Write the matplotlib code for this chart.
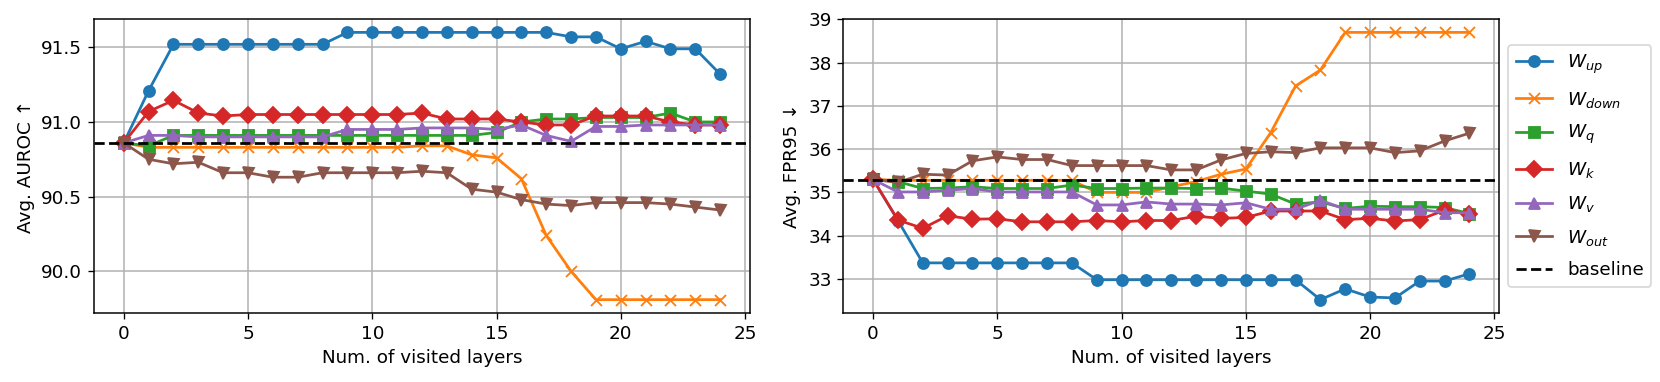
import matplotlib
matplotlib.use('Agg')
import matplotlib.pyplot as plt

# layers visited
layers = list(range(25))

# Avg. AUROC per weight type
auroc_up = [90.86, 91.21, 91.52, 91.52, 91.52, 91.52, 91.52, 91.52, 91.52, 91.60, 91.60, 91.60, 91.60,
            91.60, 91.60, 91.60, 91.60, 91.60, 91.57, 91.57, 91.49, 91.54, 91.49, 91.49, 91.32]
auroc_down = [90.86, 90.83, 90.83, 90.83, 90.83, 90.83, 90.83, 90.83, 90.83, 90.83, 90.83, 90.83, 90.84,
              90.84, 90.78, 90.76, 90.62, 90.24, 90.00, 89.81, 89.81, 89.81, 89.81, 89.81, 89.81]
auroc_q = [90.86, 90.84, 90.91, 90.91, 90.91, 90.91, 90.91, 90.91, 90.91, 90.91, 90.91, 90.91, 90.91,
           90.91, 90.91, 90.93, 91.00, 91.02, 91.02, 91.03, 91.03, 91.03, 91.06, 91.00, 91.00]
auroc_k = [90.86, 91.07, 91.145, 91.06, 91.04, 91.05, 91.05, 91.05, 91.05, 91.05, 91.05, 91.05, 91.06,
           91.02, 91.02, 91.02, 91.00, 90.98, 90.98, 91.04, 91.04, 91.04, 91.00, 90.98, 90.98]
auroc_v = [90.86, 90.91, 90.91, 90.90, 90.90, 90.90, 90.90, 90.90, 90.90, 90.95, 90.95, 90.95, 90.96,
           90.96, 90.96, 90.95, 90.98, 90.91, 90.87, 90.97, 90.97, 90.98, 90.98, 90.98, 90.98]
auroc_out = [90.86, 90.75, 90.72, 90.73, 90.66, 90.66, 90.63, 90.63, 90.66, 90.66, 90.66, 90.66, 90.67,
             90.66, 90.55, 90.53, 90.48, 90.45, 90.44, 90.46, 90.46, 90.46, 90.45, 90.43, 90.41]
auroc_base = 90.86

# Avg. FPR95 per weight type
fpr_up = [35.30, 34.35, 33.37, 33.37, 33.37, 33.37, 33.37, 33.37, 33.37, 32.98, 32.98, 32.98, 32.98,
          32.98, 32.98, 32.98, 32.98, 32.98, 32.52, 32.77, 32.58, 32.56, 32.95, 32.95, 33.12]
fpr_down = [35.30, 35.28, 35.28, 35.28, 35.28, 35.28, 35.28, 35.28, 35.28, 35.00, 35.00, 35.00, 35.13,
            35.25, 35.42, 35.54, 36.38, 37.46, 37.83, 38.70, 38.70, 38.70, 38.70, 38.70, 38.70]
fpr_q = [35.30, 35.25, 35.09, 35.10, 35.13, 35.09, 35.09, 35.09, 35.17, 35.09, 35.09, 35.10, 35.10,
         35.09, 35.10, 35.03, 34.96, 34.73, 34.78, 34.63, 34.68, 34.67, 34.67, 34.65, 34.51]
fpr_k = [35.30, 34.36, 34.17, 34.46, 34.38, 34.39, 34.32, 34.32, 34.32, 34.35, 34.32, 34.35, 34.35,
         34.45, 34.40, 34.42, 34.57, 34.57, 34.57, 34.37, 34.40, 34.34, 34.37, 34.59, 34.51]
fpr_v = [35.30, 35.01, 35.01, 35.05, 35.09, 35.01, 35.01, 35.01, 35.01, 34.71, 34.71, 34.78, 34.73,
         34.73, 34.71, 34.76, 34.61, 34.61, 34.82, 34.61, 34.61, 34.61, 34.61, 34.53, 34.53]
fpr_out = [35.30, 35.23, 35.42, 35.40, 35.73, 35.82, 35.76, 35.76, 35.62, 35.62, 35.62, 35.62, 35.52,
           35.52, 35.75, 35.90, 35.94, 35.92, 36.03, 36.03, 36.03, 35.92, 35.96, 36.19, 36.37]
fpr_base = 35.28

labels = [r'$W_{up}$', r'$W_{down}$', r'$W_q$', r'$W_k$', r'$W_v$', r'$W_{out}$']
markers = ['o', 'x', 's', 'D', '^', 'v']

plt.rcParams['font.size'] = 11
plt.rcParams['lines.linewidth'] = 1.65
plt.rcParams['lines.markersize'] = 6.6
plt.rcParams['lines.markeredgewidth'] = 1.1
plt.rcParams['axes.linewidth'] = 0.9
plt.rcParams['grid.linewidth'] = 0.9

dpi = 120
fig = plt.figure(figsize=(1660 / dpi, 382 / dpi), dpi=dpi)
ax1 = fig.add_axes([0.0566, 0.1806, 0.3952, 0.7696])
ax2 = fig.add_axes([0.508, 0.1806, 0.3952, 0.7696])


def draw(ax, series, base, ylabel):
    for i, (vals, lab, m) in enumerate(zip(series, labels, markers)):
        ax.plot(layers, vals, marker=m, color=f'C{i}', label=lab)
    ax.axhline(base, color='k', linestyle='--', label='baseline')
    ax.grid(True)
    ax.set_axisbelow(True)
    ax.set_xlabel('Num. of visited layers')
    ax.set_ylabel(ylabel)


draw(ax1, [auroc_up, auroc_down, auroc_q, auroc_k, auroc_v, auroc_out], auroc_base, 'Avg. AUROC ↑')
ax1.set_yticks([90.0, 90.5, 91.0, 91.5])
ax1.set_xticks([0, 5, 10, 15, 20, 25])

draw(ax2, [fpr_up, fpr_down, fpr_q, fpr_k, fpr_v, fpr_out], fpr_base, 'Avg. FPR95 ↓')
ax2.set_yticks([33, 34, 35, 36, 37, 38, 39])
ax2.set_xticks([0, 5, 10, 15, 20, 25])
ax2.legend(loc='center left', bbox_to_anchor=(1.0, 0.5), labelspacing=0.75)

fig.savefig('out.png', dpi=dpi)
